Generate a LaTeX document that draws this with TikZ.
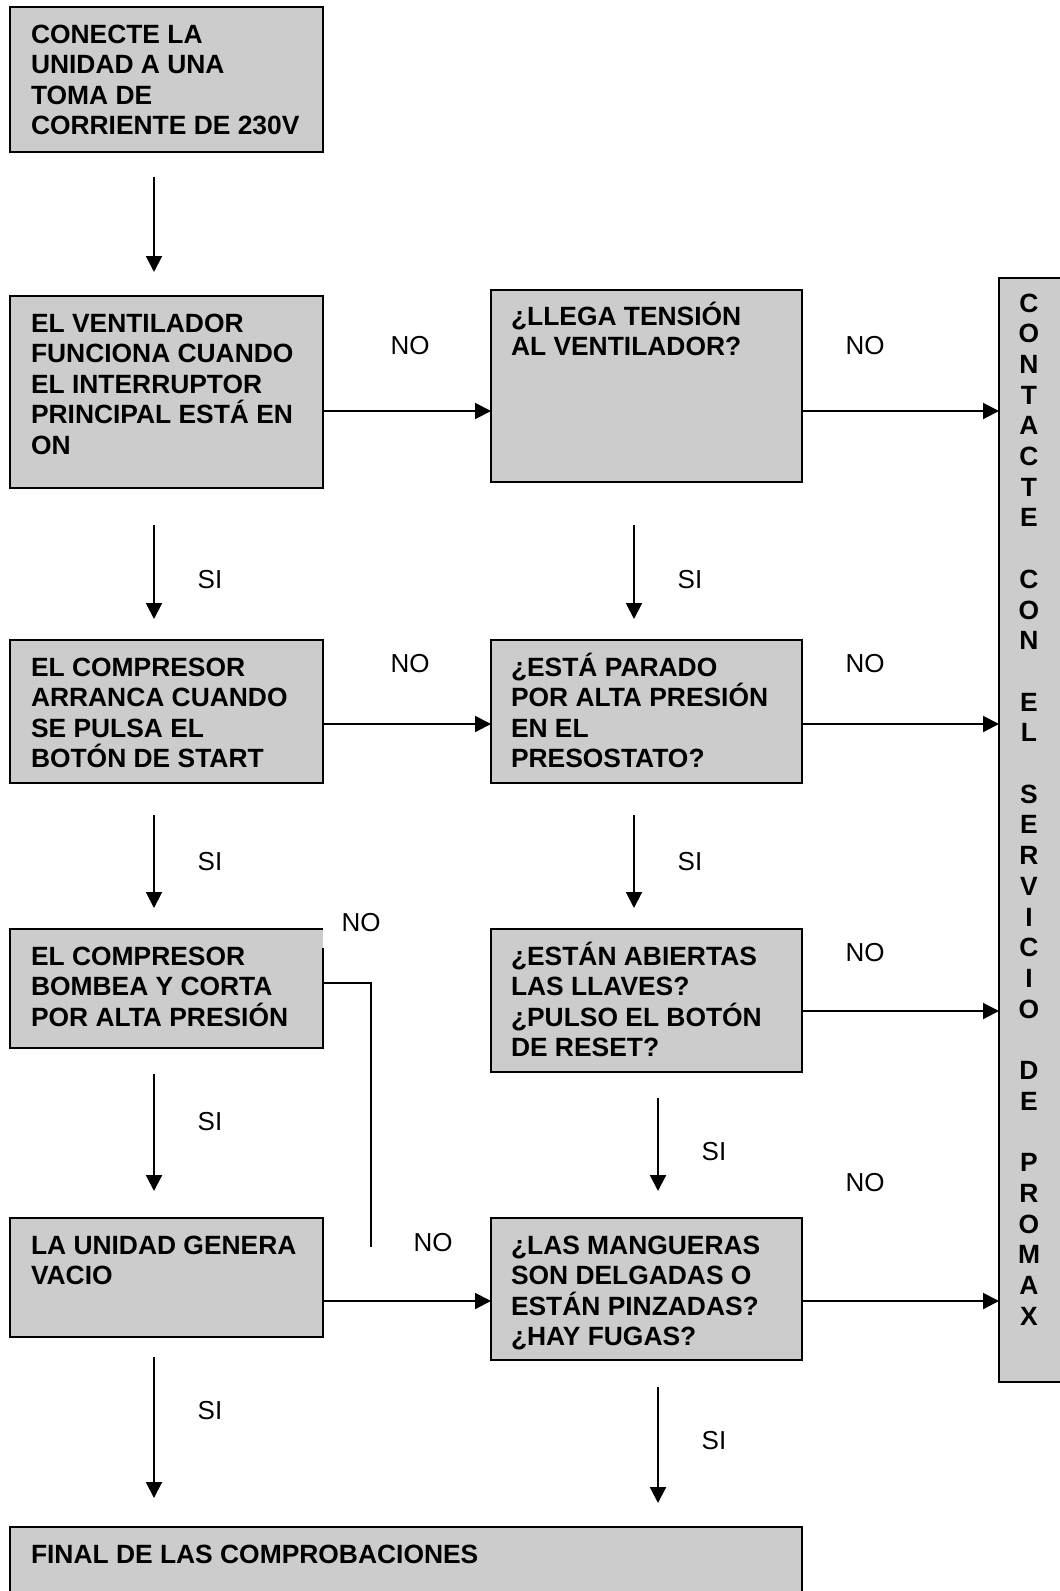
\documentclass[tikz,border=0pt]{standalone}
\usepackage{fontspec}
\setmainfont{Liberation Sans}
\usetikzlibrary{arrows.meta,calc}
\definecolor{boxgray}{RGB}{204,204,204}
\tikzset{
  box/.style={fill=boxgray, draw=black, line width=2pt, inner sep=0pt, outer sep=0pt, anchor=north west},
  boxtxt/.style={inner sep=0pt, outer sep=0pt, anchor=base west},
  lbl/.style={inner sep=0pt, font=\fontsize{26}{30}\selectfont},
  arr/.style={line width=2pt, -{Triangle[length=16pt,width=16pt]}},
  plain/.style={line width=2pt},
}
\newcommand\bt[2][330pt]{\parbox[t]{#1}{\bfseries\fontsize{26.4}{30.6}\selectfont\raggedright #2}}
\begin{document}
\begin{tikzpicture}[x=1pt,y=-1pt]
\useasboundingbox (0,0) rectangle (1060,1591);
\clip (0,0) rectangle (1060,1591);
% left column
\node[box, minimum width=313pt, minimum height=145pt] (b1) at (10,7) {};
\node[box, minimum width=313pt, minimum height=192pt] (b2) at (10,296) {};
\node[box, minimum width=313pt, minimum height=143pt] (b3) at (10,640) {};
\node[box, draw=none, minimum width=313pt, minimum height=119pt] (b4) at (10,929) {};
\draw[plain, line join=miter] ($(b4.north east)+(0,19)$) -- (b4.south east) -- (b4.south west) -- (b4.north west) -- (b4.north east);
\node[box, minimum width=313pt, minimum height=119pt] (b5) at (10,1218) {};
% right column
\node[box, minimum width=311pt, minimum height=192pt] (r1) at (491,290) {};
\node[box, minimum width=311pt, minimum height=143pt] (r2) at (491,640) {};
\node[box, minimum width=311pt, minimum height=143pt] (r3) at (491,929) {};
\node[box, minimum width=311pt, minimum height=142pt] (r4) at (491,1218) {};
% tall box and final box
\node[box, minimum width=90pt, minimum height=1104pt] (T) at (999,278) {};
\node[box, minimum width=792pt, minimum height=100pt] (F) at (10,1527) {};
% box texts
\node[boxtxt] (t1) at ($(b1.north west)+(21,36)$) {\bt{CONECTE LA\\UNIDAD A UNA\\TOMA DE\\CORRIENTE DE 230V}};
\node[boxtxt] (t2) at ($(b2.north west)+(21,36)$) {\bt{EL VENTILADOR\\FUNCIONA CUANDO\\EL INTERRUPTOR\\PRINCIPAL ESTÁ EN\\ON}};
\node[boxtxt] (t3) at ($(b3.north west)+(21,36)$) {\bt{EL COMPRESOR\\ARRANCA CUANDO\\SE PULSA EL\\BOTÓN DE START}};
\node[boxtxt] (t4) at ($(b4.north west)+(21,36)$) {\bt{EL COMPRESOR\\BOMBEA Y CORTA\\POR ALTA PRESIÓN}};
\node[boxtxt] (t5) at ($(b5.north west)+(21,36)$) {\bt{LA UNIDAD GENERA\\VACIO}};
\node[boxtxt] (u1) at ($(r1.north west)+(20,35)$) {\bt{¿LLEGA TENSIÓN\\AL VENTILADOR?}};
\node[boxtxt] (u2) at ($(r2.north west)+(20,36)$) {\bt{¿ESTÁ PARADO\\POR ALTA PRESIÓN\\EN EL\\PRESOSTATO?}};
\node[boxtxt] (u3) at ($(r3.north west)+(20,36)$) {\bt{¿ESTÁN ABIERTAS\\LAS LLAVES?\\¿PULSO EL BOTÓN\\DE RESET?}};
\node[boxtxt] (u4) at ($(r4.north west)+(20,36)$) {\bt{¿LAS MANGUERAS\\SON DELGADAS O\\ESTÁN PINZADAS?\\¿HAY FUGAS?}};
\node[boxtxt] (tf) at ($(F.north west)+(21,36)$) {\bt[760pt]{FINAL DE LAS COMPROBACIONES}};
\node[inner sep=0pt, anchor=base] (tv) at (1029,312) {\parbox[t]{40pt}{\bfseries\fontsize{26.4}{30.7}\selectfont\centering
C\\O\\N\\T\\A\\C\\T\\E\\\mbox{}\\C\\O\\N\\\mbox{}\\E\\L\\\mbox{}\\S\\E\\R\\V\\I\\C\\I\\O\\\mbox{}\\D\\E\\\mbox{}\\P\\R\\O\\M\\A\\X}};
% vertical arrows (free ends)
\coordinate (a1s) at (154,177);  \coordinate (a1e) at (154,272);
\coordinate (a2s) at (154,525);  \coordinate (a2e) at (154,619);
\coordinate (a2rs) at (634,525); \coordinate (a2re) at (634,619);
\coordinate (a3s) at (154,815);  \coordinate (a3e) at (154,908);
\coordinate (a3rs) at (634,815); \coordinate (a3re) at (634,908);
\coordinate (a4s) at (154,1074); \coordinate (a4e) at (154,1191);
\coordinate (a4rs) at (658,1098); \coordinate (a4re) at (658,1191);
\coordinate (a5s) at (154,1357); \coordinate (a5e) at (154,1498);
\coordinate (a5rs) at (658,1387); \coordinate (a5re) at (658,1503);
\draw[arr] (a1s) -- (a1e);
\draw[arr] (a2s) -- (a2e);
\draw[arr] (a2rs) -- (a2re);
\draw[arr] (a3s) -- (a3e);
\draw[arr] (a3rs) -- (a3re);
\draw[arr] (a4s) -- (a4e);
\draw[arr] (a4rs) -- (a4re);
\draw[arr] (a5s) -- (a5e);
\draw[arr] (a5rs) -- (a5re);
% horizontal arrows
\coordinate (h1) at (0,411);
\coordinate (h2) at (0,724);
\coordinate (h3) at (0,1011);
\coordinate (h4) at (0,1301);
\draw[arr] (b2.east |- h1) -- (r1.west |- h1);
\draw[arr] (r1.east |- h1) -- (T.west |- h1);
\draw[arr] (b3.east |- h2) -- (r2.west |- h2);
\draw[arr] (r2.east |- h2) -- (T.west |- h2);
\draw[arr] (r3.east |- h3) -- (T.west |- h3);
\draw[arr] (b5.east |- h4) -- (r4.west |- h4);
\draw[arr] (r4.east |- h4) -- (T.west |- h4);
% NO line from b4
\coordinate (y4) at (0,983);
\coordinate (n4) at (371,1247);
\draw[plain] (b4.east |- y4) -| (n4);
% labels
\node[lbl] (n1) at (410,346) {NO};
\node[lbl] (n2) at (865,346) {NO};
\node[lbl] (s1) at (210,580) {SI};
\node[lbl] (s2) at (690,580) {SI};
\node[lbl] (n3) at (410,664) {NO};
\node[lbl] (n5) at (865,664) {NO};
\node[lbl] (s3) at (210,862) {SI};
\node[lbl] (s4) at (690,862) {SI};
\node[lbl] (n6) at (361,923) {NO};
\node[lbl] (n7) at (865,953) {NO};
\node[lbl] (s5) at (210,1122) {SI};
\node[lbl] (s6) at (714,1152) {SI};
\node[lbl] (n8) at (865,1183) {NO};
\node[lbl] (n9) at (433,1243) {NO};
\node[lbl] (s7) at (210,1411) {SI};
\node[lbl] (s8) at (714,1441) {SI};
\end{tikzpicture}
\end{document}
